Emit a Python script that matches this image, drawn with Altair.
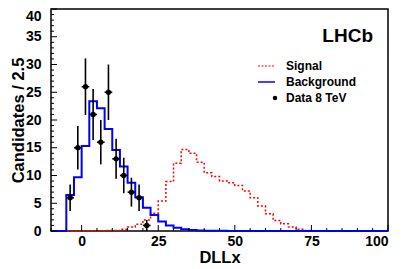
import altair as alt
import pandas as pd

# ---------------- data ----------------
bin_start = [-5 + 2.5 * i for i in range(42)]  # bins of width 2.5 from -5 to 100

background = [6.5, 9.7, 15.3, 23.4, 22.1, 18.4, 14.6, 11.6, 8.7, 6.1,
              4.2, 2.9, 1.7, 1.0, 0.6, 0.3, 0.2, 0.1, 0.06, 0.04,
              0.03, 0.02, 0.01, 0.01, 0, 0, 0, 0, 0, 0,
              0, 0, 0, 0, 0, 0, 0, 0, 0, 0, 0, 0]

signal = [0.0, 0.02, 0.05, 0.05, 0.05, 0.08, 0.1, 0.3, 0.7, 1.2,
          2.0, 3.2, 5.4, 8.9, 12.2, 14.7, 14.0, 12.4, 10.5, 9.8,
          9.0, 8.7, 8.2, 7.2, 6.0, 4.5, 3.1, 1.9, 1.3, 0.7,
          0.3, 0.1, 0.05, 0.02, 0, 0, 0, 0, 0, 0, 0, 0]

data_x = [-3.75, -1.25, 1.25, 3.75, 6.25, 8.75, 11.25, 13.75, 16.25, 18.75, 21.25]
data_y = [6, 15, 26, 21, 16, 25, 13, 10, 7, 6, 1]
data_err = [2.4, 3.9, 5.1, 4.6, 4.0, 5.0, 3.6, 3.2, 2.6, 2.4, 1.0]
half_bin = 1.25

x_major = [0, 25, 50, 75, 100]
x_minor = [-10, -5, 5, 10, 15, 20, 30, 35, 40, 45, 55, 60, 65, 70, 80, 85, 90, 95]
y_major = [0, 5, 10, 15, 20, 25, 30, 35, 40]
y_minor = [v for v in range(1, 40) if v % 5 != 0]

legend_labels = ["Signal", "Background", "Data 8 TeV"]

# ---------------- tables ----------------
def hist_table(values):
    xs = [-10] + bin_start + [100]
    ys = [0] + values + [values[-1]]
    return pd.DataFrame({"x": xs, "y": ys})

bg_df = hist_table(background)
sig_df = hist_table(signal)
pts = pd.DataFrame({
    "x": data_x, "y": data_y,
    "lo": [y - e for y, e in zip(data_y, data_err)],
    "hi": [y + e for y, e in zip(data_y, data_err)],
    "xl": [x - half_bin for x in data_x],
    "xh": [x + half_bin for x in data_x],
})

W, H = 337, 222
FONT = "Liberation Sans"

xs = alt.Scale(domain=[-10, 100], nice=False, zero=False)
ys = alt.Scale(domain=[0, 40], nice=False, zero=False)

x_axis = alt.Axis(values=x_major, ticks=False, domain=False, grid=False,
                  labelFont=FONT, labelFontSize=14, labelFontWeight="bold",
                  labelColor="black", labelPadding=3,
                  title="DLLx", titleFont=FONT, titleFontSize=16.5,
                  titleFontWeight="bold", titleColor="black",
                  titleBaseline="alphabetic", titleY=31)
y_axis = alt.Axis(values=y_major, ticks=False, domain=False, grid=False,
                  labelFont=FONT, labelFontSize=14, labelFontWeight="bold",
                  labelColor="black", labelPadding=10,
                  labelBaseline={"condition": {"test": "datum.value === 40", "value": "top"}, "value": "middle"},
                  title="Candidates / 2.5", titleFont=FONT, titleFontSize=16.5,
                  titleFontWeight="bold", titleColor="black",
                  titleAngle=270, titleAlign="center",
                  titleBaseline="alphabetic", titleX=-28, titleY=H / 2)


def X(field):
    return alt.X(field, scale=xs, axis=x_axis, title="DLLx")


def Y(field):
    return alt.Y(field, scale=ys, axis=y_axis, title="Candidates / 2.5")


sig_line = alt.Chart(sig_df).mark_line(
    interpolate="step-after", color="#ff0000", strokeWidth=1.5, strokeDash=[2, 2]
).encode(x=X("x:Q"), y=Y("y:Q"))

bg_line = alt.Chart(bg_df).mark_line(
    interpolate="step-after", color="#0000ff", strokeWidth=2
).encode(x=X("x:Q"), y=Y("y:Q"))

err_v = alt.Chart(pts).mark_rule(color="black", strokeWidth=1.6).encode(
    x=X("x:Q"), y=Y("lo:Q"), y2="hi:Q")
err_h = alt.Chart(pts).mark_rule(color="black", strokeWidth=1.6).encode(
    x=X("xl:Q"), x2="xh:Q", y=Y("y:Q"))
dots = alt.Chart(pts).mark_point(filled=True, color="black", size=28, opacity=1).encode(
    x=X("x:Q"), y=Y("y:Q"))

# inner ticks (ROOT style)
xt_major = alt.Chart(pd.DataFrame({"t": x_major})).mark_rule(color="black", strokeWidth=1).encode(
    x=X("t:Q"), y=alt.value(H), y2=alt.value(H - 6))
xt_minor = alt.Chart(pd.DataFrame({"t": x_minor})).mark_rule(color="black", strokeWidth=1).encode(
    x=X("t:Q"), y=alt.value(H), y2=alt.value(H - 3))
yt_major = alt.Chart(pd.DataFrame({"t": y_major})).mark_rule(color="black", strokeWidth=1).encode(
    y=Y("t:Q"), x=alt.value(0), x2=alt.value(6))
yt_minor = alt.Chart(pd.DataFrame({"t": y_minor})).mark_rule(color="black", strokeWidth=1).encode(
    y=Y("t:Q"), x=alt.value(0), x2=alt.value(3))

# legend
leg_text = alt.Chart(pd.DataFrame({"label": legend_labels, "yy": [57, 73, 89]})).mark_text(
    align="left", baseline="middle", font=FONT, fontSize=12, fontWeight="bold", color="black"
).encode(x=alt.value(235), y=alt.Y("yy:Q", scale=None), text="label:N")
leg_sig = alt.Chart(pd.DataFrame({"a": [0]})).mark_rule(
    color="#ff0000", strokeWidth=1.2, strokeDash=[2, 1.5]).encode(
    x=alt.value(207), x2=alt.value(224), y=alt.value(57))
leg_bg = alt.Chart(pd.DataFrame({"a": [0]})).mark_rule(
    color="#0000ff", strokeWidth=1.5).encode(
    x=alt.value(207), x2=alt.value(224), y=alt.value(73))
leg_dot = alt.Chart(pd.DataFrame({"a": [0]})).mark_point(
    filled=True, color="black", size=20, opacity=1).encode(
    x=alt.value(224), y=alt.value(89))

lhcb = alt.Chart(pd.DataFrame({"t": ["LHCb"]})).mark_text(
    align="right", baseline="alphabetic", font=FONT, fontSize=19, fontWeight="bold", color="black"
).encode(x=alt.value(322), y=alt.value(33), text="t:N")

chart = alt.layer(
    sig_line, bg_line, err_v, err_h, dots,
    xt_major, xt_minor, yt_major, yt_minor,
    leg_text, leg_sig, leg_bg, leg_dot, lhcb
).properties(
    width=W, height=H,
    autosize=alt.AutoSizeParams(type="none"),
    padding={"left": 43, "top": 1, "right": 11, "bottom": 36},
    background="white",
).configure_view(stroke="black", strokeWidth=1.5)

chart.save("out.html", embed_options={"renderer": "svg", "actions": False})
